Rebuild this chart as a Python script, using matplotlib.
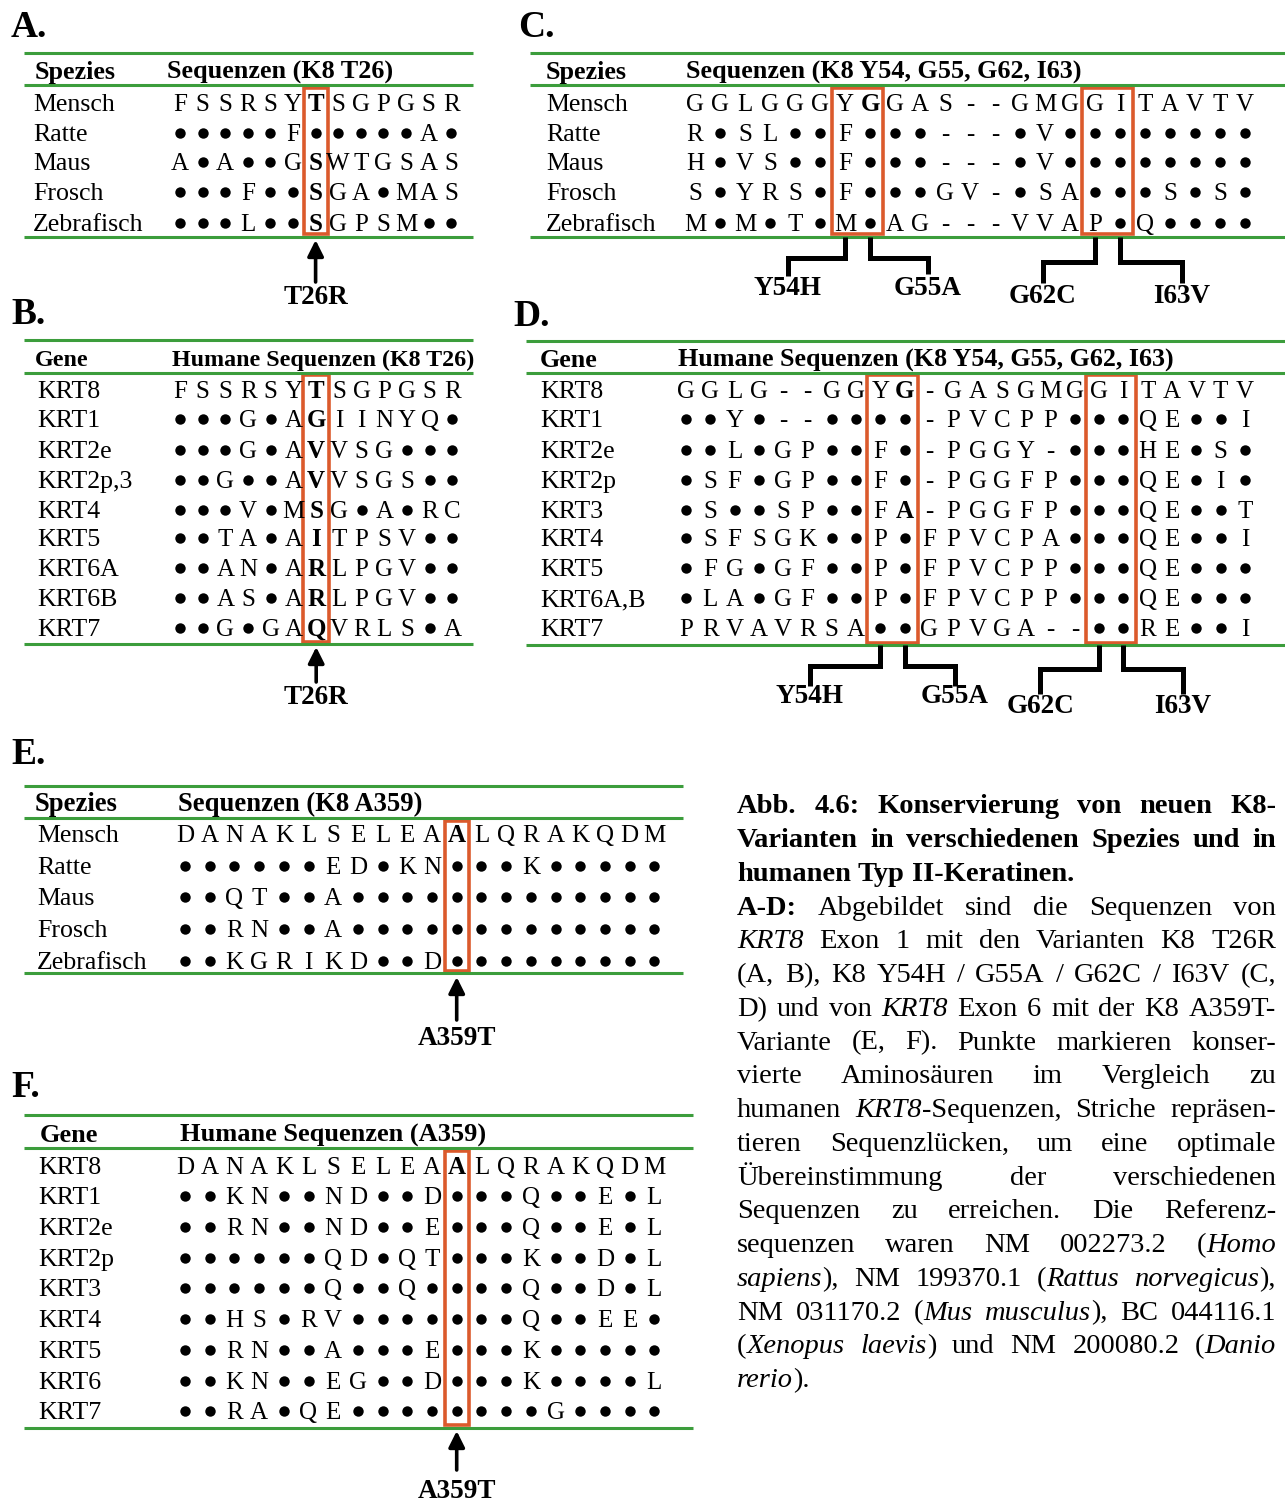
import matplotlib
matplotlib.use("Agg")
import matplotlib.pyplot as plt
from matplotlib.patches import Rectangle

SERIF = "Liberation Serif"
GREEN = "#3c9d3c"
ORANGE = "#db5a2c"
DOT = "•"

# ---------------------------------------------------------------- data
species = ["Mensch", "Ratte", "Maus", "Frosch", "Zebrafisch"]
genes_b = ["KRT8", "KRT1", "KRT2e", "KRT2p,3", "KRT4", "KRT5", "KRT6A", "KRT6B", "KRT7"]
genes_d = ["KRT8", "KRT1", "KRT2e", "KRT2p", "KRT3", "KRT4", "KRT5", "KRT6A,B", "KRT7"]
genes_f = ["KRT8", "KRT1", "KRT2e", "KRT2p", "KRT3", "KRT4", "KRT5", "KRT6", "KRT7"]

# KRT8 exon 1 around T26 (species)
seq_a = ["FSSRSYTSGPGSR",
         "•••••F•••••A•",
         "A•A••GSWTGSAS",
         "•••F••SGA•MAS",
         "•••L••SGPSM••"]
# KRT8 exon 1 around T26 (human type II keratins)
seq_b = ["FSSRSYTSGPGSR",
         "•••G•AGIINYQ•",
         "•••G•AVVSG•••",
         "••G••AVVSGS••",
         "•••V•MSG•A•RC",
         "••TA•AITPSV••",
         "••AN•ARLPGV••",
         "••AS•ARLPGV••",
         "••G•GAQVRLS•A"]
# KRT8 exon 1 around Y54, G55, G62, I63 (species)
seq_c = ["GGLGGGYGGAS--GMGGITAVTV",
         "R•SL••F•••---•V••••••••",
         "H•VS••F•••---•V••••••••",
         "S•YRS•F•••GV-•SA•••S•S•",
         "M•M•T•M•AG---VVAP•Q••••"]
# KRT8 exon 1 around Y54, G55, G62, I63 (human type II keratins)
seq_d = ["GGLG--GGYG-GASGMGGITAVTV",
         "••Y•--••••-PVCPP•••QE••I",
         "••L•GP••F•-PGGY-•••HE•S•",
         "•SF•GP••F•-PGGFP•••QE•I•",
         "•S••SP••FA-PGGFP•••QE••T",
         "•SFSGK••P•FPVCPA•••QE••I",
         "•FG•GF••P•FPVCPP•••QE•••",
         "•LA•GF••P•FPVCPP•••QE•••",
         "PRVAVRSA••GPVGA--••RE••I"]
# KRT8 exon 6 around A359 (species)
seq_e = ["DANAKLSELEAALQRAKQDM",
         "••••••ED•KN•••K•••••",
         "••QT••A•••••••••••••",
         "••RN••A•••••••••••••",
         "••KGRIKD••D•••••••••"]
# KRT8 exon 6 around A359 (human type II keratins)
seq_f = ["DANAKLSELEAALQRAKQDM",
         "••KN••ND••D•••Q••E•L",
         "••RN••ND••E•••Q••E•L",
         "••••••QD•QT•••K••D•L",
         "••••••Q••Q••••Q••D•L",
         "••HS•RV•••••••Q••EE•",
         "••RN••A•••E•••K•••••",
         "••KN••EG••D•••K••••L",
         "••RA•QE••••••••G••••"]

mut_ab = ["T26R"]
mut_cd = ["Y54H", "G55A", "G62C", "I63V"]
mut_ef = ["A359T"]

caption = [
    "#Abb. 4.6: Konservierung von neuen K8-#",
    "#Varianten in verschiedenen Spezies und in#",
    "#humanen Typ II-Keratinen.#",
    "#A-D:# Abgebildet sind die Sequenzen von",
    "*KRT8* Exon 1 mit den Varianten K8 T26R",
    "(A, B), K8 Y54H / G55A / G62C / I63V (C,",
    "D) und von *KRT8* Exon 6 mit der K8 A359T-",
    "Variante (E, F). Punkte markieren konser-",
    "vierte Aminosäuren im Vergleich zu",
    "humanen *KRT8*-Sequenzen, Striche repräsen-",
    "tieren Sequenzlücken, um eine optimale",
    "Übereinstimmung der verschiedenen",
    "Sequenzen zu erreichen. Die Referenz-",
    "sequenzen waren NM 002273.2 (*Homo*",
    "*sapiens*), NM 199370.1 (*Rattus norvegicus*),",
    "NM 031170.2 (*Mus musculus*), BC 044116.1",
    "(*Xenopus laevis*) und NM 200080.2 (*Danio*",
    "*rerio*).",
]
caption_last_lines = {2, 17}

# ---------------------------------------------------------------- styles
SEQ_FS = 18
LABEL_FS = 18.6
PANEL_FS = 27
MUT_FS = 19.5
CAP_FS = 20.5
DOT_MS = 7.5


def cap(fs):
    return 0.655 * fs * 100 / 72


fig = plt.figure(figsize=(12.85, 15.01), dpi=100, facecolor="white")
ax = fig.add_axes([0, 0, 1, 1])
ax.set_xlim(0, 1285)
ax.set_ylim(1501, 0)
ax.axis("off")


def txt(x, y, s, fs, bold=False, italic=False, ha="left"):
    return ax.text(x, y + cap(fs) / 2, s, fontsize=fs, family=SERIF,
                   fontweight="bold" if bold else "normal",
                   fontstyle="italic" if italic else "normal",
                   ha=ha, va="baseline", color="black")


def draw_alignment(names, seqs, L):
    txt(L["letter_xy"][0], L["letter_xy"][1], L["letter"], PANEL_FS, bold=True)
    x1, x2 = L["rule_x"]
    for y in L["rules_y"]:
        ax.plot([x1, x2], [y, y], color=GREEN, lw=2.2, solid_capstyle="butt")
    for s, x in L["head"]:
        txt(x, L["head_y"], s, L["head_fs"], bold=True)
    cols = [L["x0"] + i * L["dx"] for i in range(len(seqs[0]))]
    for name, seq, y in zip(names, seqs, L["rows_y"]):
        txt(L["label_x"], y, name, LABEL_FS)
        for i, ch in enumerate(seq):
            if ch == DOT:
                ax.plot(cols[i], y, "o", ms=DOT_MS, color="black", mew=0)
            else:
                txt(cols[i], y, ch, SEQ_FS, bold=i in L["bold_cols"], ha="center")
    yb0, yb1 = L["box_y"]
    for c0, c1 in L["boxes"]:
        xl = cols[c0] - L["half"]
        xr = cols[c1] + L["half"]
        ax.add_patch(Rectangle((xl, yb0), xr - xl, yb1 - yb0, fill=False,
                               ec=ORANGE, lw=2.6, joinstyle="miter"))
    return cols


def draw_arrow(x, y_base, y_tip, label, y_label):
    ax.annotate("", xy=(x, y_tip), xytext=(x, y_base),
                arrowprops=dict(arrowstyle="-|>", lw=2.6, color="black",
                                mutation_scale=24, shrinkA=0, shrinkB=0))
    txt(x, y_label, label, MUT_FS, bold=True, ha="center")


def draw_bracket(x, y0, y1, xh, y2, label, y_label):
    ax.plot([x, x, xh, xh], [y0, y1, y1, y2], color="black", lw=3.6,
            solid_joinstyle="miter", solid_capstyle="butt")
    txt(xh, y_label, label, MUT_FS, bold=True, ha="center")


rows5_top = [103, 133, 162, 192, 223]
rows9_top = [390, 419, 450, 480, 510, 538, 568, 598, 628]

# ---------------- A
cols = draw_alignment(species, seq_a, dict(
    letter="A.", letter_xy=(11, 25), rule_x=(24, 473), rules_y=(53, 85, 237),
    head=[("Spezies", 35), ("Sequenzen (K8 T26)", 167)], head_y=70, head_fs=18.8,
    label_x=33, rows_y=rows5_top, x0=180, dx=22.6, bold_cols={6},
    boxes=[(6, 6)], box_y=(88, 234), half=12))
draw_arrow(cols[6], 282, 240, mut_ab[0], 295)

# ---------------- B
cols = draw_alignment(genes_b, seq_b, dict(
    letter="B.", letter_xy=(11, 312), rule_x=(24, 473), rules_y=(340, 373, 644),
    head=[("Gene", 35), ("Humane Sequenzen (K8 T26)", 172)], head_y=358, head_fs=17.3,
    label_x=37, rows_y=rows9_top, x0=180, dx=22.7, bold_cols={6},
    boxes=[(6, 6)], box_y=(375, 642), half=13))
draw_arrow(cols[6], 682, 647, mut_ab[0], 695)

# ---------------- C
cols = draw_alignment(species, seq_c, dict(
    letter="C.", letter_xy=(518, 25), rule_x=(530, 1285), rules_y=(53, 85, 237),
    head=[("Spezies", 546), ("Sequenzen (K8 Y54, G55, G62, I63)", 686)], head_y=70,
    head_fs=18.8,
    label_x=546, rows_y=rows5_top, x0=695, dx=25.0, bold_cols={7},
    boxes=[(6, 7), (16, 17)], box_y=(88, 234), half=13))
draw_bracket(cols[6], 237, 258, 788, 276, mut_cd[0], 286)
draw_bracket(cols[7], 237, 258, 928, 274, mut_cd[1], 286)
draw_bracket(cols[16], 237, 262, 1043, 283, mut_cd[2], 294)
draw_bracket(cols[17], 237, 262, 1182, 283, mut_cd[3], 294)

# ---------------- D
cols = draw_alignment(genes_d, seq_d, dict(
    letter="D.", letter_xy=(513, 314), rule_x=(526, 1285), rules_y=(341, 373, 645),
    head=[("Gene", 540), ("Humane Sequenzen (K8 Y54, G55, G62, I63)", 678)], head_y=358,
    head_fs=18.7,
    label_x=540, rows_y=rows9_top, x0=686, dx=24.3, bold_cols={9},
    boxes=[(8, 9), (17, 18)], box_y=(375, 643), half=13))
draw_bracket(cols[8], 645, 666, 810, 686, mut_cd[0], 694)
draw_bracket(cols[9], 645, 666, 955, 686, mut_cd[1], 694)
draw_bracket(cols[17], 645, 669, 1040, 694, mut_cd[2], 704)
draw_bracket(cols[18], 645, 669, 1183, 694, mut_cd[3], 704)

# ---------------- E
cols = draw_alignment(species, seq_e, dict(
    letter="E.", letter_xy=(11, 752), rule_x=(24, 683), rules_y=(786, 818, 973),
    head=[("Spezies", 35), ("Sequenzen (K8 A359)", 178)], head_y=802, head_fs=19.2,
    label_x=37, rows_y=[834, 866, 897, 929, 961], x0=185, dx=24.7, bold_cols={11},
    boxes=[(11, 11)], box_y=(821, 971), half=12))
draw_arrow(cols[11], 1020, 977, mut_ef[0], 1036)

# ---------------- F
cols = draw_alignment(genes_f, seq_f, dict(
    letter="F.", letter_xy=(11, 1085), rule_x=(24, 693), rules_y=(1115, 1148, 1428),
    head=[("Gene", 40), ("Humane Sequenzen (A359)", 180)], head_y=1133, head_fs=19.0,
    label_x=38, rows_y=[1166, 1196, 1227, 1258, 1288, 1319, 1350, 1381, 1411],
    x0=185, dx=24.7, bold_cols={11},
    boxes=[(11, 11)], box_y=(1151, 1425), half=12))
draw_arrow(cols[11], 1470, 1431, mut_ef[0], 1489)


# ---------------- caption (justified block)
def parse_line(line):
    words, cur, buf = [], [], ""
    bold = italic = False
    for ch in line:
        if ch in "#*":
            if buf:
                cur.append((buf, bold, italic))
                buf = ""
            if ch == "#":
                bold = not bold
            else:
                italic = not italic
        elif ch == " ":
            if buf:
                cur.append((buf, bold, italic))
                buf = ""
            if cur:
                words.append(cur)
                cur = []
        else:
            buf += ch
    if buf:
        cur.append((buf, bold, italic))
    if cur:
        words.append(cur)
    return words


renderer = fig.canvas.get_renderer()
CAP_X0, CAP_X1 = 737, 1276
CAP_Y0, CAP_DY = 804, 33.75
space_t = ax.text(0, 0, "a a", fontsize=CAP_FS, family=SERIF)
nospace_t = ax.text(0, 0, "aa", fontsize=CAP_FS, family=SERIF)
SPACE_W = (space_t.get_window_extent(renderer).width
           - nospace_t.get_window_extent(renderer).width)
space_t.remove()
nospace_t.remove()

for li, line in enumerate(caption):
    y = CAP_Y0 + li * CAP_DY
    words = parse_line(line)
    placed = []
    for w in words:
        pieces = []
        for s, b, it in w:
            t = txt(0, y, s, CAP_FS, bold=b, italic=it)
            pieces.append((t, t.get_window_extent(renderer).width))
        placed.append(pieces)
    widths = [sum(p[1] for p in w) for w in placed]
    if li in caption_last_lines or len(placed) == 1:
        gap = SPACE_W
    else:
        gap = (CAP_X1 - CAP_X0 - sum(widths)) / (len(placed) - 1)
    x = CAP_X0
    for pieces, wsum in zip(placed, widths):
        px = x
        for t, wd in pieces:
            t.set_x(px)
            px += wd
        x += wsum + gap

fig.savefig("out.png", dpi=100, facecolor="white")
